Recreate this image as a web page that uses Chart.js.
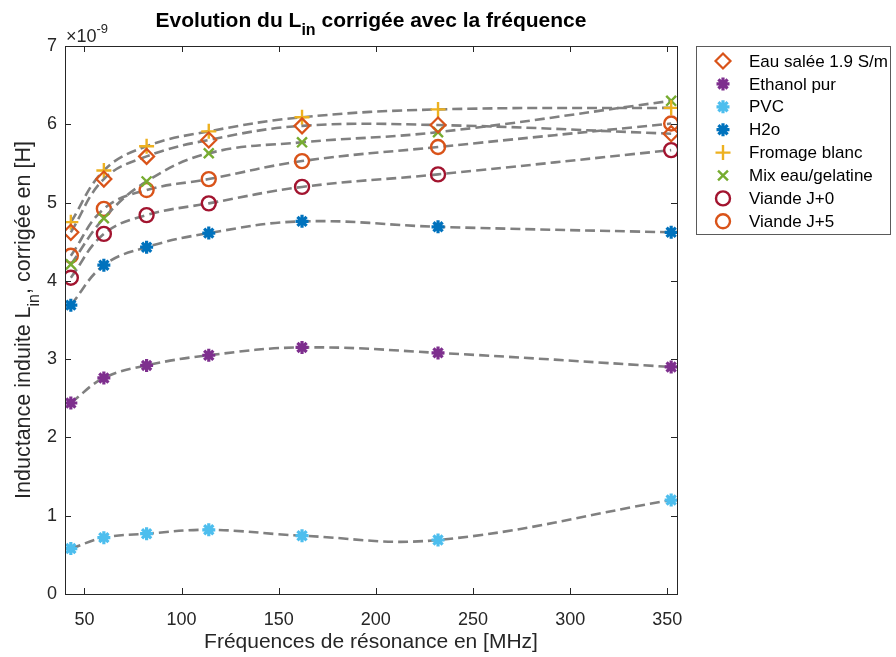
<!DOCTYPE html>
<html>
<head>
<meta charset="utf-8">
<script src="https://cdn.jsdelivr.net/npm/chart.js@4.4.1/dist/chart.umd.min.js"></script>
<style>
html, body { margin: 0; padding: 0; background: #fff; }
</style>
</head>
<body>
<canvas id="chart" width="896" height="657"></canvas>
<script>
// ===== données (inductance en unités de 1e-9 H) =====
const frequencies = [43, 60, 82, 114, 162, 232, 352];
const eauSalee    = [4.62, 5.30, 5.59, 5.80, 5.98, 5.99, 5.88];
const ethanol     = [2.44, 2.76, 2.92, 3.05, 3.15, 3.08, 2.90];
const pvc         = [0.58, 0.72, 0.77, 0.82, 0.745, 0.69, 1.20];
const h2o         = [3.69, 4.20, 4.43, 4.61, 4.76, 4.69, 4.62];
const fromage     = [4.75, 5.41, 5.72, 5.91, 6.09, 6.19, 6.21];
const mixGelatine = [4.21, 4.80, 5.27, 5.63, 5.77, 5.90, 6.30];
const viandeJ0    = [4.04, 4.60, 4.84, 4.99, 5.20, 5.36, 5.67];
const viandeJ5    = [4.32, 4.92, 5.16, 5.30, 5.53, 5.71, 6.01];

const xTicks = [50, 100, 150, 200, 250, 300, 350];
const yTicks = [0, 1, 2, 3, 4, 5, 6, 7];

const FONT = "'Liberation Sans', Arial, sans-serif";
const AXIS_COLOR = '#262626';
const FIT_GRAY = '#808080';

const series = [
    { label: 'Eau salée 1.9 S/m', data: eauSalee,    color: '#D95319', style: 'rectRot',  radius: 7.5, bw: 2.2, fill: false },
    { label: 'Ethanol pur',       data: ethanol,     color: '#7E2F8E', style: 'star',     radius: 6.5, bw: 3.2, fill: true },
    { label: 'PVC',               data: pvc,         color: '#4DBEEE', style: 'star',     radius: 6.5, bw: 3.2, fill: true },
    { label: 'H2o',               data: h2o,         color: '#0072BD', style: 'star',     radius: 6.5, bw: 3.2, fill: true },
    { label: 'Fromage blanc',     data: fromage,     color: '#EDB120', style: 'cross',    radius: 7.5, bw: 2.4, fill: false },
    { label: 'Mix eau/gelatine',  data: mixGelatine, color: '#77AC30', style: 'crossRot', radius: 7,   bw: 2.4, fill: false },
    { label: 'Viande J+0',        data: viandeJ0,    color: '#A2142F', style: 'circle',   radius: 7,   bw: 2.4, fill: false },
    { label: 'Viande J+5',        data: viandeJ5,    color: '#D95319', style: 'circle',   radius: 7,   bw: 2.4, fill: false }
];

const datasets = series.map(s => ({
    label: s.label,
    data: s.data.map((v, i) => ({ x: frequencies[i], y: v })),
    showLine: true,
    borderColor: FIT_GRAY,
    borderWidth: 2.6,
    borderDash: [10, 5],
    tension: 0.4,
    pointStyle: s.style,
    pointRadius: s.radius,
    pointBorderWidth: s.bw,
    pointBorderColor: s.color,
    pointBackgroundColor: s.fill ? s.color : 'rgba(0,0,0,0)'
}));

// texte avec indice (ex: L_in)
function drawParts(ctx, parts, x, y, size, bold, align) {
    const main = (bold ? 'bold ' : '') + size + 'px ' + FONT;
    const sub = (bold ? 'bold ' : '') + Math.round(size * 0.75) + 'px ' + FONT;
    let total = 0;
    parts.forEach(p => { ctx.font = p.sub ? sub : main; total += ctx.measureText(p.t).width; });
    let cx = align === 'center' ? x - total / 2 : x;
    ctx.textAlign = 'left';
    ctx.textBaseline = 'alphabetic';
    parts.forEach(p => {
        ctx.font = p.sub ? sub : main;
        ctx.fillText(p.t, cx, p.sub ? y + size * 0.4 : y);
        cx += ctx.measureText(p.t).width;
    });
}

const decorPlugin = {
    id: 'decor',
    afterDraw(chart) {
        const ctx = chart.ctx;
        const a = chart.chartArea;
        const xs = chart.scales.x, ys = chart.scales.y;
        ctx.save();
        ctx.strokeStyle = AXIS_COLOR;
        ctx.lineWidth = 1;
        ctx.strokeRect(a.left + 0.5, a.top + 0.5, a.right - a.left, a.bottom - a.top);
        // graduations vers l'intérieur
        ctx.beginPath();
        xTicks.forEach(v => {
            const px = Math.round(xs.getPixelForValue(v)) + 0.5;
            ctx.moveTo(px, a.bottom); ctx.lineTo(px, a.bottom - 6);
            ctx.moveTo(px, a.top); ctx.lineTo(px, a.top + 6);
        });
        yTicks.forEach(v => {
            const py = Math.round(ys.getPixelForValue(v)) + 0.5;
            ctx.moveTo(a.left, py); ctx.lineTo(a.left + 6, py);
            ctx.moveTo(a.right, py); ctx.lineTo(a.right - 6, py);
        });
        ctx.stroke();

        ctx.fillStyle = '#000';
        // titre
        drawParts(ctx, [{ t: 'Evolution du L' }, { t: 'in', sub: true }, { t: ' corrigée avec la fréquence' }],
            (a.left + a.right) / 2, 27, 21, true, 'center');

        ctx.fillStyle = AXIS_COLOR;
        // exposant
        ctx.font = '18px ' + FONT;
        ctx.textAlign = 'left';
        ctx.fillText('×10', a.left + 1, 42);
        const w = ctx.measureText('×10').width;
        ctx.font = '13px ' + FONT;
        ctx.fillText('-9', a.left + 1 + w, 33);

        // titre axe x
        ctx.font = '21px ' + FONT;
        ctx.textAlign = 'center';
        ctx.fillText('Fréquences de résonance en [MHz]', (a.left + a.right) / 2, 648);

        // titre axe y
        ctx.save();
        ctx.translate(30, (a.top + a.bottom) / 2);
        ctx.rotate(-Math.PI / 2);
        drawParts(ctx, [{ t: 'Inductance induite L' }, { t: 'in', sub: true }, { t: ', corrigée en [H]' }],
            0, 0, 21.5, false, 'center');
        ctx.restore();

        // légende
        const lx = 696, ly = 46, lw = 194, lh = 188;
        ctx.fillStyle = '#fff';
        ctx.fillRect(lx, ly, lw, lh);
        ctx.strokeStyle = '#5a5a5a';
        ctx.strokeRect(lx + 0.5, ly + 0.5, lw, lh);
        series.forEach((s, i) => {
            const y = 61 + i * 22.9;
            ctx.strokeStyle = s.color;
            ctx.fillStyle = s.fill ? s.color : 'rgba(0,0,0,0)';
            ctx.lineWidth = s.bw;
            Chart.helpers.drawPoint(ctx, { pointStyle: s.style, radius: s.radius, borderWidth: s.bw, rotation: 0 }, 723, y);
            ctx.fillStyle = '#000';
            ctx.font = '17px ' + FONT;
            ctx.textAlign = 'left';
            ctx.textBaseline = 'middle';
            ctx.fillText(s.label, 749, y + 1);
        });
        ctx.restore();
    }
};

new Chart(document.getElementById('chart'), {
    type: 'scatter',
    data: { datasets },
    options: {
        responsive: false,
        animation: false,
        devicePixelRatio: 1,
        layout: { padding: { left: 0, top: 46, right: 219, bottom: 0 } },
        plugins: {
            legend: { display: false },
            tooltip: { enabled: false }
        },
        scales: {
            x: {
                type: 'linear',
                min: 40,
                max: 355,
                grid: { display: false },
                border: { display: false },
                afterBuildTicks: scale => { scale.ticks = xTicks.map(v => ({ value: v })); },
                afterFit: scale => { scale.height = 63; },
                ticks: { color: AXIS_COLOR, font: { family: FONT, size: 18 }, padding: 7, maxRotation: 0 }
            },
            y: {
                min: 0,
                max: 7,
                grid: { display: false, drawTicks: false },
                border: { display: false },
                afterBuildTicks: scale => { scale.ticks = yTicks.map(v => ({ value: v })); },
                afterFit: scale => { scale.width = 65; },
                ticks: { color: AXIS_COLOR, font: { family: FONT, size: 18 }, padding: 8 }
            }
        }
    },
    plugins: [decorPlugin]
});
</script>
</body>
</html>
